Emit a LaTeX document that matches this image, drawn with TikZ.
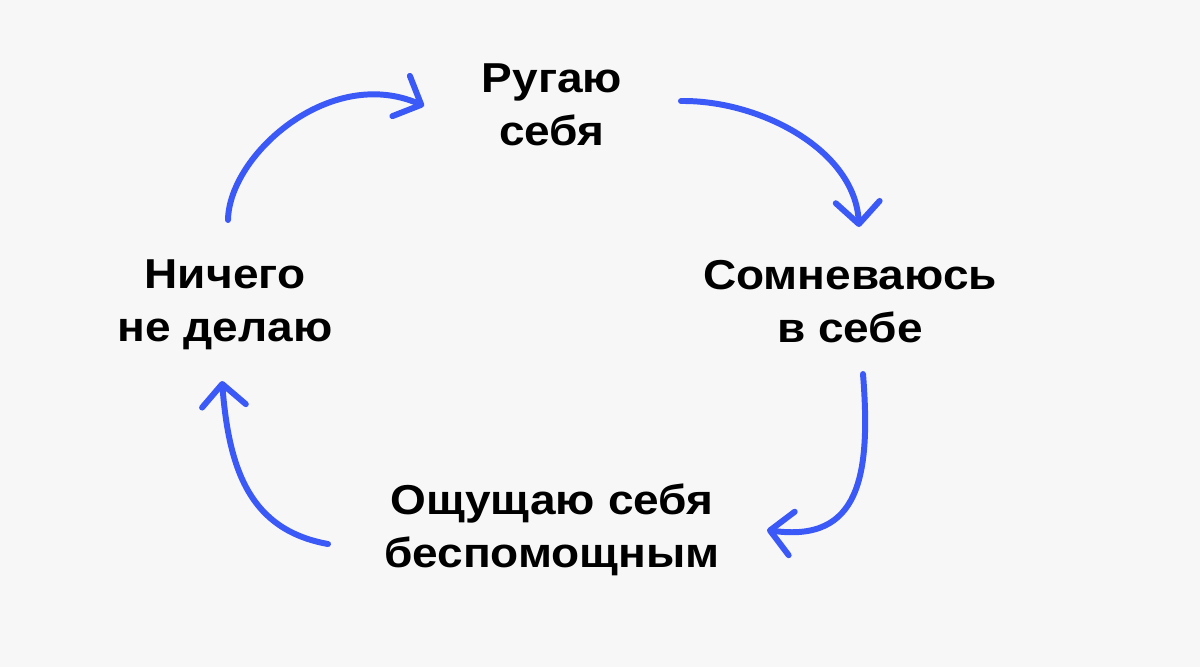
\documentclass[tikz,border=0pt]{standalone}
\usepackage{fontspec}
\setmainfont{Liberation Sans}[FakeStretch=1.1]
\usetikzlibrary{arrows.meta}
\definecolor{bg}{HTML}{F7F7F7}
\definecolor{arrowblue}{HTML}{3A59F7}
\tikzset{
  label/.style={font=\bfseries\fontsize{23.8}{30}\selectfont, align=center, anchor=base, inner sep=0pt, text=black},
  cyc/.style={draw=arrowblue, line width=3.4pt, line cap=round,
    -{Straight Barb[length=12.5pt,width=25pt,round]}}
}
\begin{document}
\begin{tikzpicture}[x=0.02cm,y=-0.02cm]
\fill[bg] (0,0) rectangle (1200,667);
\useasboundingbox (0,0) rectangle (1200,667);
\node[label] (top) at (552,145) {Ругаю\\себя};
\node[label] (right) at (850,342) {Сомневаюсь\\в себе};
\node[label] (bottom) at (552,567) {Ощущаю себя\\беспомощным};
\node[label] (left) at (225,341) {Ничего\\не делаю};
\coordinate (s1) at (228,220); \coordinate (e1) at (424,106);
\coordinate (s2) at (681,101); \coordinate (e2) at (859,227);
\coordinate (s3) at (863,374); \coordinate (e3) at (767,530);
\coordinate (s4) at (328,544); \coordinate (e4) at (222,381);
\draw[cyc] (s1) .. controls (229,155) and (330,65) .. (e1);
\draw[cyc] (s2) .. controls (760,100) and (855,150) .. (e2);
\draw[cyc] (s3) .. controls (871,475) and (860,543) .. (e3);
\draw[cyc] (s4) .. controls (250,530) and (229,470) .. (e4);
\end{tikzpicture}
\end{document}
